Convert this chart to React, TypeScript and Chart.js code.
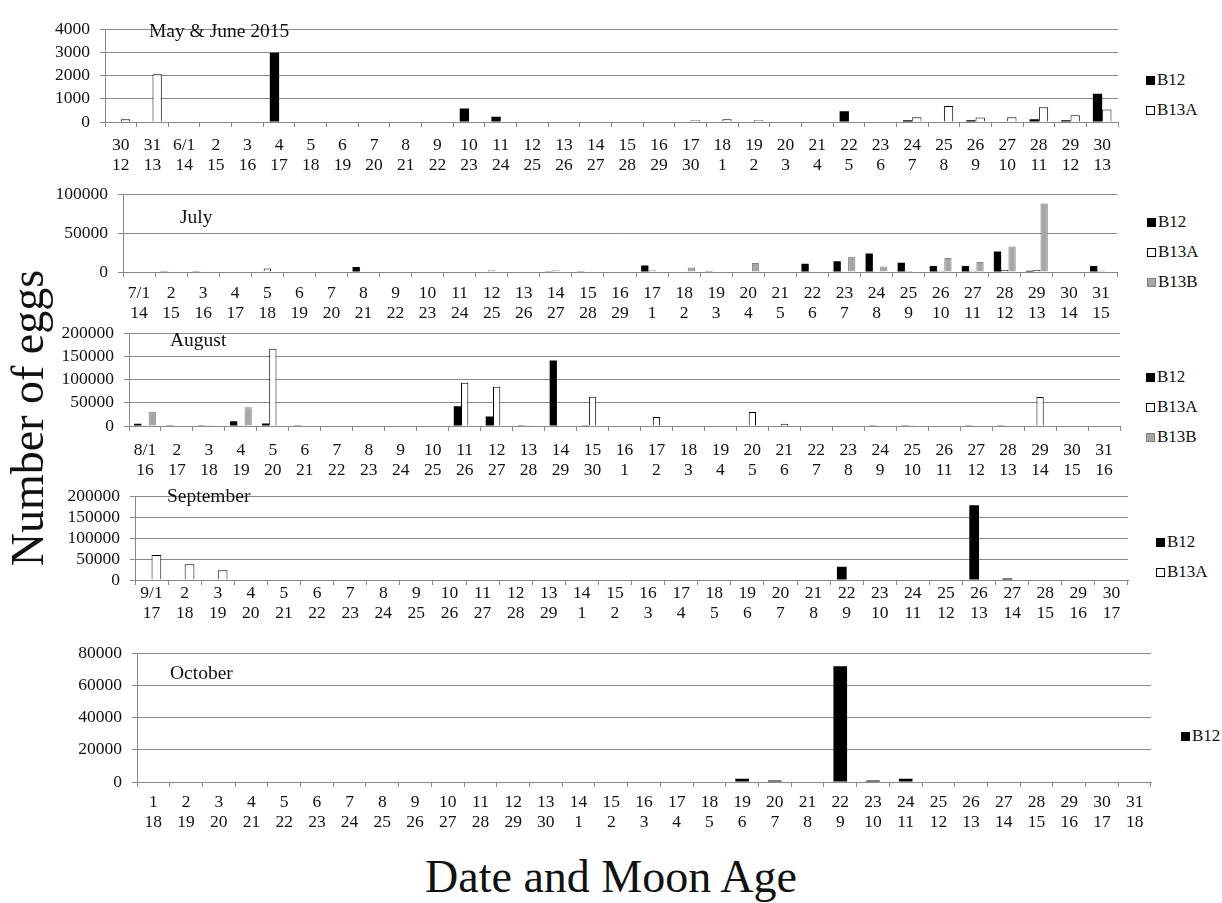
import React, { useEffect, useRef } from 'react';
import { Chart, registerables } from 'chart.js';

Chart.register(...registerables);

const FONT = "'Liberation Serif', 'Times New Roman', Times, serif";
const GRID = '#888888';
const TEXT = '#111111';

// ---------- May & June 2015 ----------
const mjDates = ['30', '31', '6/1', '2', '3', '4', '5', '6', '7', '8', '9', '10', '11', '12', '13', '14', '15', '16', '17', '18', '19', '20', '21', '22', '23', '24', '25', '26', '27', '28', '29', '30'];
const mjMoon = ['12', '13', '14', '15', '16', '17', '18', '19', '20', '21', '22', '23', '24', '25', '26', '27', '28', '29', '30', '1', '2', '3', '4', '5', '6', '7', '8', '9', '10', '11', '12', '13'];
const mjB12 = [0, 0, 0, 0, 0, 3000, 0, 0, 0, 0, 0, 580, 230, 0, 0, 0, 0, 0, 0, 0, 0, 0, 0, 470, 0, 80, 0, 80, 0, 120, 80, 1220];
const mjB13A = [120, 2070, 0, 0, 0, 0, 0, 0, 0, 0, 0, 0, 0, 0, 0, 0, 0, 0, 80, 120, 80, 0, 0, 0, 0, 210, 690, 190, 210, 640, 290, 540];

// ---------- July ----------
const julDates = ['7/1', '2', '3', '4', '5', '6', '7', '8', '9', '10', '11', '12', '13', '14', '15', '16', '17', '18', '19', '20', '21', '22', '23', '24', '25', '26', '27', '28', '29', '30', '31'];
const julMoon = ['14', '15', '16', '17', '18', '19', '20', '21', '22', '23', '24', '25', '26', '27', '28', '29', '1', '2', '3', '4', '5', '6', '7', '8', '9', '10', '11', '12', '13', '14', '15'];
const julB12 = [800, 1000, 1000, 0, 800, 800, 0, 6400, 800, 800, 800, 0, 800, 1000, 1000, 800, 8500, 0, 1000, 0, 0, 10500, 14000, 24000, 12000, 7800, 7800, 26500, 1500, 800, 7800];
const julB13A = [0, 1000, 1000, 0, 4500, 0, 0, 1000, 0, 0, 0, 2000, 0, 2000, 1000, 0, 2000, 0, 0, 0, 0, 0, 0, 0, 1200, 1500, 1500, 2500, 2500, 0, 1500];
const julB13B = [0, 0, 0, 0, 0, 0, 0, 0, 0, 0, 0, 0, 0, 0, 0, 0, 0, 5800, 0, 11500, 0, 0, 19800, 7000, 600, 18200, 12800, 33000, 88500, 0, 0];

// ---------- August ----------
const augDates = ['8/1', '2', '3', '4', '5', '6', '7', '8', '9', '10', '11', '12', '13', '14', '15', '16', '17', '18', '19', '20', '21', '22', '23', '24', '25', '26', '27', '28', '29', '30', '31'];
const augMoon = ['16', '17', '18', '19', '20', '21', '22', '23', '24', '25', '26', '27', '28', '29', '30', '1', '2', '3', '4', '5', '6', '7', '8', '9', '10', '11', '12', '13', '14', '15', '16'];
const augB12 = [4700, 1500, 1500, 10500, 5200, 1500, 0, 0, 0, 0, 42500, 20300, 1500, 141500, 1500, 0, 0, 0, 0, 0, 0, 0, 0, 1500, 1500, 0, 1500, 1500, 0, 0, 0];
const augB13A = [1500, 0, 1500, 1500, 167000, 1000, 0, 0, 0, 0, 93500, 85000, 1500, 0, 63500, 0, 19700, 0, 0, 30200, 4700, 0, 0, 0, 1500, 0, 0, 0, 62500, 0, 0];
const augB13B = [30800, 0, 0, 40600, 0, 0, 0, 0, 0, 0, 0, 0, 0, 0, 0, 0, 0, 0, 0, 0, 0, 0, 0, 0, 0, 0, 0, 0, 0, 0, 0];

// ---------- September ----------
const sepDates = ['9/1', '2', '3', '4', '5', '6', '7', '8', '9', '10', '11', '12', '13', '14', '15', '16', '17', '18', '19', '20', '21', '22', '23', '24', '25', '26', '27', '28', '29', '30'];
const sepMoon = ['17', '18', '19', '20', '21', '22', '23', '24', '25', '26', '27', '28', '29', '1', '2', '3', '4', '5', '6', '7', '8', '9', '10', '11', '12', '13', '14', '15', '16', '17'];
const sepB12 = [0, 0, 0, 0, 0, 0, 0, 0, 0, 0, 0, 0, 0, 0, 0, 0, 0, 0, 0, 0, 0, 31800, 0, 0, 0, 179000, 3500, 0, 0, 0];
const sepB13A = [60000, 37700, 23100, 0, 0, 0, 0, 0, 0, 0, 0, 0, 0, 0, 0, 0, 0, 0, 0, 0, 0, 0, 0, 0, 0, 0, 0, 0, 0, 0];

// ---------- October ----------
const octDates = ['1', '2', '3', '4', '5', '6', '7', '8', '9', '10', '11', '12', '13', '14', '15', '16', '17', '18', '19', '20', '21', '22', '23', '24', '25', '26', '27', '28', '29', '30', '31'];
const octMoon = ['18', '19', '20', '21', '22', '23', '24', '25', '26', '27', '28', '29', '30', '1', '2', '3', '4', '5', '6', '7', '8', '9', '10', '11', '12', '13', '14', '15', '16', '17', '18'];
const octB12 = [0, 0, 0, 0, 0, 0, 0, 0, 0, 0, 0, 0, 0, 0, 0, 0, 0, 0, 2100, 1000, 0, 72000, 1000, 2100, 0, 0, 0, 0, 0, 0, 0];

const yAxisTitle = 'Number of eggs';
const xAxisTitle = 'Date and Moon Age';

type Kind = 'B12' | 'B13A' | 'B13B';
const STYLE: Record<Kind, { bg: string; border: string; bw: number }> = {
  B12: { bg: '#000000', border: '#000000', bw: 0 },
  B13A: { bg: '#ffffff', border: '#000000', bw: 1 },
  B13B: { bg: '#a6a6a6', border: '#808080', bw: 1 },
};

interface PanelCfg {
  title: string;
  dates: string[];
  moon: string[];
  series: { label: Kind; data: number[] }[];
  max: number;
  step: number;
  area: { left: number; right: number; top: number; bottom: number };
  xPad: number;
  titlePos: { x: number; y: number };
  legend: { x: number; ys: number[] };
}

const panels: PanelCfg[] = [
  {
    title: 'May & June 2015', dates: mjDates, moon: mjMoon,
    series: [{ label: 'B12', data: mjB12 }, { label: 'B13A', data: mjB13A }],
    max: 4000, step: 1000,
    area: { left: 105, right: 1118, top: 21, bottom: 122 }, xPad: 8,
    titlePos: { x: 149, y: 31 }, legend: { x: 1146, ys: [80, 110] },
  },
  {
    title: 'July', dates: julDates, moon: julMoon,
    series: [{ label: 'B12', data: julB12 }, { label: 'B13A', data: julB13A }, { label: 'B13B', data: julB13B }],
    max: 100000, step: 50000,
    area: { left: 123, right: 1117, top: 186, bottom: 272 }, xPad: 6,
    titlePos: { x: 180, y: 217 }, legend: { x: 1147, ys: [222, 252, 282] },
  },
  {
    title: 'August', dates: augDates, moon: augMoon,
    series: [{ label: 'B12', data: augB12 }, { label: 'B13A', data: augB13A }, { label: 'B13B', data: augB13B }],
    max: 200000, step: 50000,
    area: { left: 129, right: 1120, top: 325, bottom: 426 }, xPad: 9,
    titlePos: { x: 170, y: 340 }, legend: { x: 1146, ys: [377, 407, 437] },
  },
  {
    title: 'September', dates: sepDates, moon: sepMoon,
    series: [{ label: 'B12', data: sepB12 }, { label: 'B13A', data: sepB13A }],
    max: 200000, step: 50000,
    area: { left: 135, right: 1128, top: 488, bottom: 580 }, xPad: -2,
    titlePos: { x: 167, y: 496 }, legend: { x: 1156, ys: [542, 572] },
  },
  {
    title: 'October', dates: octDates, moon: octMoon,
    series: [{ label: 'B12', data: octB12 }],
    max: 80000, step: 20000,
    area: { left: 137, right: 1151, top: 645, bottom: 782 }, xPad: 5,
    titlePos: { x: 170, y: 673 }, legend: { x: 1181, ys: [736] },
  },
];

const PT = 12;
const PR = 4;
const XH = 62;
const TICK_SIZE = 17.5;

function Panel({ cfg }: { cfg: PanelCfg }) {
  const ref = useRef<HTMLCanvasElement>(null);
  const { area } = cfg;
  const w = area.right + PR;
  const h = area.bottom - area.top + PT + XH;

  useEffect(() => {
    const n = cfg.series.length;
    const chart = new Chart(ref.current as HTMLCanvasElement, {
      type: 'bar',
      data: {
        labels: cfg.dates.map((d, i) => [d, cfg.moon[i]]),
        datasets: cfg.series.map((s) => ({
          label: s.label,
          data: s.data,
          backgroundColor: STYLE[s.label].bg,
          borderColor: STYLE[s.label].border,
          borderWidth: STYLE[s.label].bw,
          borderSkipped: 'start',
          categoryPercentage: n / (n + 1.4),
          barPercentage: 1,
        })),
      },
      options: {
        responsive: false,
        animation: false,
        devicePixelRatio: 1,
        layout: { padding: { top: PT, right: PR, left: 0, bottom: 0 } },
        plugins: { legend: { display: false }, tooltip: { enabled: false }, title: { display: false } },
        scales: {
          x: {
            grid: { display: true, drawOnChartArea: false, drawTicks: true, tickLength: 5, color: GRID, offset: true },
            border: { display: true, color: GRID, width: 1 },
            ticks: {
              autoSkip: false, maxRotation: 0, minRotation: 0, padding: cfg.xPad, color: TEXT,
              font: { family: FONT, size: TICK_SIZE, lineHeight: 20 / TICK_SIZE },
            },
            afterFit: (s: any) => { s.height = XH; },
          },
          y: {
            min: 0, max: cfg.max,
            ticks: {
              stepSize: cfg.step, padding: 10, color: TEXT, autoSkip: false,
              font: { family: FONT, size: TICK_SIZE },
              callback: (v: any) => String(v),
            },
            grid: { color: GRID, tickLength: 5, drawTicks: true },
            border: { display: true, color: GRID, width: 1 },
            afterFit: (s: any) => { s.width = area.left; },
          },
        },
      },
    } as any);
    return () => chart.destroy();
  }, []);

  return (
    <canvas
      ref={ref}
      width={w}
      height={h}
      style={{ position: 'absolute', left: 0, top: area.top - PT, width: w, height: h }}
    />
  );
}

function Legend({ cfg }: { cfg: PanelCfg }) {
  return (
    <>
      {cfg.series.map((s, i) => {
        const st = STYLE[s.label];
        return (
          <div
            key={s.label}
            style={{
              position: 'absolute', left: cfg.legend.x, top: cfg.legend.ys[i] - 10, height: 20,
              display: 'flex', alignItems: 'center', fontFamily: FONT, fontSize: 17, color: TEXT, whiteSpace: 'nowrap',
            }}
          >
            <span
              style={{
                display: 'inline-block', width: 9, height: 9, boxSizing: 'border-box',
                background: st.bg, border: `1px solid ${st.border}`, marginRight: 2,
              }}
            />
            <span style={{ lineHeight: '20px' }}>{s.label}</span>
          </div>
        );
      })}
    </>
  );
}

export default function App() {
  return (
    <div style={{ position: 'absolute', left: 0, top: 0, width: 1222, height: 903, overflow: 'hidden', background: '#ffffff' }}>
      {panels.map((p) => (
        <Panel key={p.title} cfg={p} />
      ))}
      {panels.map((p) => (
        <div
          key={p.title + '-t'}
          style={{
            position: 'absolute', left: p.titlePos.x, top: p.titlePos.y - 11, height: 22, lineHeight: '22px',
            fontFamily: FONT, fontSize: 19.5, color: TEXT, whiteSpace: 'nowrap',
          }}
        >
          {p.title}
        </div>
      ))}
      {panels.map((p) => (
        <Legend key={p.title + '-l'} cfg={p} />
      ))}
      <div
        style={{
          position: 'absolute', left: 28 - 200, top: 418 - 25, width: 400, height: 50, lineHeight: '50px',
          textAlign: 'center', fontFamily: FONT, fontSize: 46, color: TEXT, transform: 'rotate(-90deg)',
          whiteSpace: 'nowrap',
        }}
      >
        {yAxisTitle}
      </div>
      <div
        style={{
          position: 'absolute', left: 611 - 250, top: 852, width: 500, height: 50, lineHeight: '50px',
          textAlign: 'center', fontFamily: FONT, fontSize: 46, color: TEXT, whiteSpace: 'nowrap',
        }}
      >
        {xAxisTitle}
      </div>
    </div>
  );
}
